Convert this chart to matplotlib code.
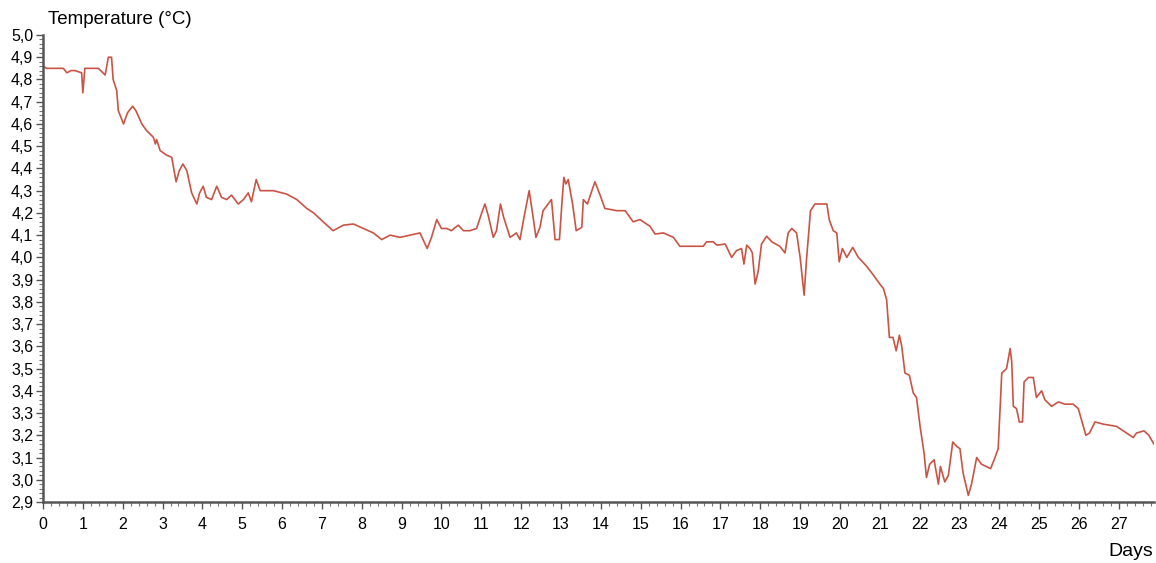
import matplotlib
matplotlib.use("Agg")
import matplotlib.pyplot as plt
from matplotlib.ticker import MultipleLocator, FuncFormatter

# traced logger readings: time in days, temperature in degC
days = [0.00, 0.09, 0.51, 0.60, 0.70, 0.80, 0.97, 1.00, 1.05, 1.39, 1.56, 1.64,
        1.72, 1.76, 1.85, 1.89, 2.02, 2.12, 2.25, 2.33, 2.48, 2.60, 2.77, 2.82,
        2.85, 2.94, 3.10, 3.23, 3.34, 3.42, 3.51, 3.61, 3.73, 3.86, 3.93, 4.02,
        4.10, 4.23, 4.36, 4.48, 4.61, 4.73, 4.90, 5.03, 5.15, 5.23, 5.35, 5.45,
        5.61, 5.78, 6.11, 6.37, 6.62, 6.79, 7.03, 7.28, 7.54, 7.79, 8.04, 8.29,
        8.50, 8.71, 8.96, 9.21, 9.46, 9.64, 9.75, 9.88, 10.00, 10.13, 10.25,
        10.42, 10.55, 10.71, 10.88, 11.01, 11.09, 11.17, 11.30, 11.38, 11.48,
        11.56, 11.72, 11.88, 11.97, 12.07, 12.20, 12.30, 12.37, 12.47, 12.55,
        12.76, 12.80, 12.85, 12.96, 13.02, 13.07, 13.12, 13.18, 13.29, 13.38,
        13.52, 13.56, 13.66, 13.85, 13.98, 14.10, 14.40, 14.61, 14.81, 14.98,
        15.23, 15.36, 15.57, 15.82, 15.98, 16.32, 16.57, 16.65, 16.82, 16.91,
        17.12, 17.20, 17.28, 17.40, 17.53, 17.59, 17.66, 17.74, 17.80, 17.87,
        17.95, 18.03, 18.16, 18.29, 18.49, 18.62, 18.70, 18.79, 18.91, 19.00,
        19.10, 19.16, 19.26, 19.37, 19.67, 19.73, 19.83, 19.92, 19.98, 20.06,
        20.17, 20.32, 20.46, 20.67, 20.84, 21.00, 21.09, 21.17, 21.24, 21.33,
        21.41, 21.49, 21.55, 21.63, 21.74, 21.84, 21.92, 22.01, 22.11, 22.17,
        22.25, 22.36, 22.47, 22.52, 22.63, 22.72, 22.83, 22.93, 23.01, 23.09,
        23.22, 23.30, 23.43, 23.55, 23.78, 23.89, 23.97, 24.06, 24.18, 24.27,
        24.31, 24.35, 24.43, 24.50, 24.58, 24.62, 24.73, 24.85, 24.93, 25.06,
        25.14, 25.31, 25.48, 25.64, 25.85, 25.98, 26.06, 26.17, 26.26, 26.40,
        26.61, 26.94, 27.19, 27.36, 27.44, 27.63, 27.75, 27.88]
temps = [4.86, 4.85, 4.85, 4.83, 4.84, 4.84, 4.83, 4.74, 4.85, 4.85, 4.82, 4.90,
         4.90, 4.80, 4.75, 4.66, 4.60, 4.65, 4.68, 4.66, 4.60, 4.57, 4.54, 4.51,
         4.53, 4.48, 4.46, 4.45, 4.34, 4.39, 4.42, 4.39, 4.29, 4.24, 4.29, 4.32,
         4.27, 4.26, 4.32, 4.27, 4.26, 4.28, 4.24, 4.26, 4.29, 4.25, 4.35, 4.30,
         4.30, 4.30, 4.285, 4.26, 4.22, 4.20, 4.16, 4.12, 4.145, 4.15, 4.13, 4.11,
         4.08, 4.10, 4.09, 4.10, 4.11, 4.04, 4.09, 4.17, 4.13, 4.13, 4.12,
         4.145, 4.12, 4.12, 4.13, 4.20, 4.24, 4.19, 4.09, 4.12, 4.24,
         4.18, 4.09, 4.11, 4.08, 4.18, 4.30, 4.18, 4.09, 4.135, 4.21,
         4.26, 4.18, 4.08, 4.08, 4.24, 4.36, 4.33, 4.35, 4.24, 4.12,
         4.135, 4.26, 4.24, 4.34, 4.28, 4.22, 4.21, 4.21, 4.16, 4.17,
         4.14, 4.105, 4.11, 4.09, 4.05, 4.05, 4.05, 4.07, 4.07, 4.055,
         4.06, 4.03, 4.00, 4.03, 4.04, 3.97, 4.055, 4.04, 4.02, 3.88,
         3.94, 4.06, 4.095, 4.07, 4.05, 4.02, 4.11, 4.13, 4.11, 4.00,
         3.83, 3.99, 4.21, 4.24, 4.24, 4.17, 4.12, 4.11, 3.98, 4.04,
         4.00, 4.045, 4.00, 3.96, 3.92, 3.88, 3.86, 3.81, 3.64, 3.64,
         3.58, 3.65, 3.60, 3.48, 3.47, 3.39, 3.37, 3.24, 3.12, 3.01,
         3.07, 3.09, 2.98, 3.06, 2.99, 3.02, 3.17, 3.15, 3.14, 3.03,
         2.93, 2.98, 3.10, 3.07, 3.05, 3.10, 3.14, 3.48, 3.50, 3.59,
         3.53, 3.33, 3.32, 3.26, 3.26, 3.44, 3.46, 3.46, 3.37, 3.40,
         3.36, 3.33, 3.35, 3.34, 3.34, 3.32, 3.27, 3.20, 3.21, 3.26,
         3.25, 3.24, 3.21, 3.19, 3.21, 3.22, 3.20, 3.16]

plt.rcParams['font.family'] = ['Liberation Sans', 'DejaVu Sans']

fig = plt.figure(figsize=(11.56, 5.63), dpi=100)
ax = fig.add_axes([43 / 1156, 61 / 563, 1111 / 1156, 467 / 563])

ax.plot(days, temps, color='#c95445', linewidth=1.2)

ax.set_xlim(0, 27.88)
ax.set_ylim(2.9, 5.0)

ax.xaxis.set_major_locator(MultipleLocator(1))
ax.xaxis.set_minor_locator(MultipleLocator(0.2))
ax.yaxis.set_major_locator(MultipleLocator(0.1))
ax.yaxis.set_minor_locator(MultipleLocator(0.02))
ax.yaxis.set_major_formatter(FuncFormatter(lambda v, p: f"{v:.1f}".replace('.', ',')))

for s in ['top', 'right']:
    ax.spines[s].set_visible(False)
for s in ['left', 'bottom']:
    ax.spines[s].set_color('#555555')
    ax.spines[s].set_linewidth(1.8)

ax.tick_params(which='major', length=5, width=1, color='#555555', labelsize=11.5, pad=2)
ax.tick_params(which='minor', length=3, width=0.8, color='#777777')
ax.tick_params(axis='x', pad=6)

fig.text(48 / 1156, 1 - 20 / 563, 'Temperature (°C)', fontsize=13.5, va='center', ha='left')
fig.text(1153 / 1156, 1 - 552 / 563, 'Days', fontsize=14, va='center', ha='right')

fig.savefig('out.png', dpi=100)
